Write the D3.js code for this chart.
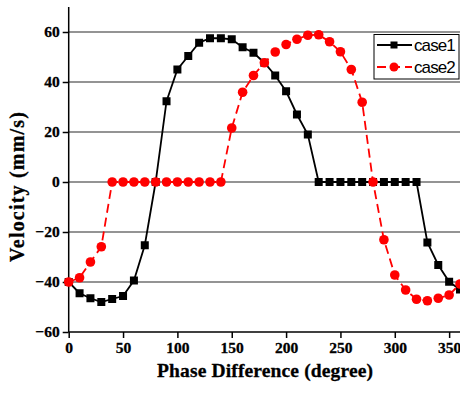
<!DOCTYPE html>
<html>
<head>
<meta charset="utf-8">
<script src="https://cdn.jsdelivr.net/npm/d3@7/dist/d3.min.js"></script>
<style>
html,body{margin:0;padding:0;background:#fff;overflow:hidden;}
svg{display:block;}
</style>
</head>
<body>
<svg id="chart" width="460" height="398"></svg>
<script>
const phase = d3.range(0, 361, 10);
const case1 = [-40,-44.5,-46.5,-48,-46.8,-45.6,-39.4,-25.3,0,32.3,45,50.4,55.7,57.5,57.5,57.1,53.9,51.7,47.7,42.6,36.3,27,19,0,0,0,0,0,0,0,0,0,0,-24.2,-33.2,-39.9,-43];
const case2 = [-40,-38.3,-32,-25.9,0,0,0,0,0,0,0,0,0,0,0,21.6,35.9,42.6,47.7,52,55,57.1,58.7,58.9,56.1,52.1,45,31.9,0,-23.1,-37.2,-43.2,-46.9,-47.5,-46.5,-45.2,-40.8];
const xTicks = [0,50,100,150,200,250,300,350];
const yTicks = [-60,-40,-20,0,20,40,60];
const seriesNames = ["case1","case2"];
const xTitle = "Phase Difference (degree)";
const yTitle = "Velocity (mm/s)";

const svg = d3.select("#chart");
const x = d3.scaleLinear().domain([0,360]).range([68.7,460]);
const y = d3.scaleLinear().domain([-60,70]).range([332,7]);
const serif = "'Liberation Serif','Times New Roman',serif";

// gridlines
svg.append("g").selectAll("line").data(yTicks.filter(v=>v>-60)).join("line")
  .attr("x1", x(0)).attr("x2", 460)
  .attr("y1", d=>y(d)).attr("y2", d=>y(d))
  .attr("stroke","#2a2a2a").attr("stroke-width",1.2);

// axes
const xAxis = d3.axisBottom(x).tickValues(xTicks).tickSize(6).tickPadding(4);
const gx = svg.append("g").attr("transform",`translate(0,${y(-60)})`).call(xAxis);
gx.select(".domain").attr("d", `M${x(0)},0H460`).attr("stroke","#000").attr("stroke-width",1.5);
gx.selectAll(".tick line").attr("stroke","#000").attr("stroke-width",1.5);
gx.selectAll("text").attr("font-family",serif).attr("font-weight","bold").attr("font-size",15.5)
  .attr("fill","#000").attr("stroke","#000").attr("stroke-width",0.3);

const yAxis = d3.axisLeft(y).tickValues(yTicks).tickSize(6).tickPadding(3);
const gy = svg.append("g").attr("transform",`translate(${x(0)},0)`).call(yAxis);
gy.select(".domain").attr("d", `M0,${y(70)}V${y(-60)}`).attr("stroke","#000").attr("stroke-width",1.5);
gy.selectAll(".tick line").attr("stroke","#000").attr("stroke-width",1.5);
gy.selectAll("text").attr("font-family",serif).attr("font-weight","bold").attr("font-size",15.5)
  .attr("fill","#000").attr("stroke","#000").attr("stroke-width",0.3);

// titles
svg.append("text").attr("x", 265).attr("y", 377).attr("text-anchor","middle")
  .attr("font-family",serif).attr("font-weight","bold").attr("font-size",19.5)
  .attr("textLength",216).attr("lengthAdjust","spacing")
  .attr("stroke","#000").attr("stroke-width",0.3).text(xTitle);
svg.append("text").attr("transform","translate(24,187) rotate(-90)").attr("text-anchor","middle")
  .attr("font-family",serif).attr("font-weight","bold").attr("font-size",20)
  .attr("textLength",150).attr("lengthAdjust","spacing")
  .attr("stroke","#000").attr("stroke-width",0.3).text(yTitle);

const line = d3.line().x((d,i)=>x(phase[i])).y(d=>y(d));

// case1
svg.append("path").datum(case1).attr("d",line).attr("fill","none").attr("stroke","#000").attr("stroke-width",1.8);
svg.append("g").selectAll("rect").data(case1).join("rect")
  .attr("x",(d,i)=>x(phase[i])-4).attr("y",d=>y(d)-4).attr("width",8).attr("height",8).attr("fill","#000");

// case2
svg.append("path").datum(case2).attr("d",line).attr("fill","none").attr("stroke","#ff0000").attr("stroke-width",1.8).attr("stroke-dasharray","9,5");
svg.append("g").selectAll("circle").data(case2).join("circle")
  .attr("cx",(d,i)=>x(phase[i])).attr("cy",d=>y(d)).attr("r",4.8).attr("fill","#ff0000");

// legend
const lg = svg.append("g");
lg.append("rect").attr("x",374).attr("y",34.5).attr("width",85).attr("height",44.5).attr("fill","#fff").attr("stroke","#000").attr("stroke-width",1);
const rows = [{y:45, color:"#000", dash:null, sym:"rect"},{y:67, color:"#ff0000", dash:"9,5", sym:"circle"}];
rows.forEach((r,i)=>{
  lg.append("line").attr("x1",377).attr("x2",412).attr("y1",r.y).attr("y2",r.y)
    .attr("stroke",r.color).attr("stroke-width",1.8).attr("stroke-dasharray",r.dash);
  if(r.sym==="rect") lg.append("rect").attr("x",390.5).attr("y",r.y-3.5).attr("width",7).attr("height",7).attr("fill",r.color);
  else lg.append("circle").attr("cx",394).attr("cy",r.y).attr("r",4.5).attr("fill",r.color);
  lg.append("text").attr("x",414).attr("y",r.y+6).attr("font-family","'Liberation Sans',Arial,sans-serif")
    .attr("font-size",17).attr("letter-spacing",-0.9).attr("fill","#000").text(seriesNames[i]);
});
</script>
</body>
</html>
